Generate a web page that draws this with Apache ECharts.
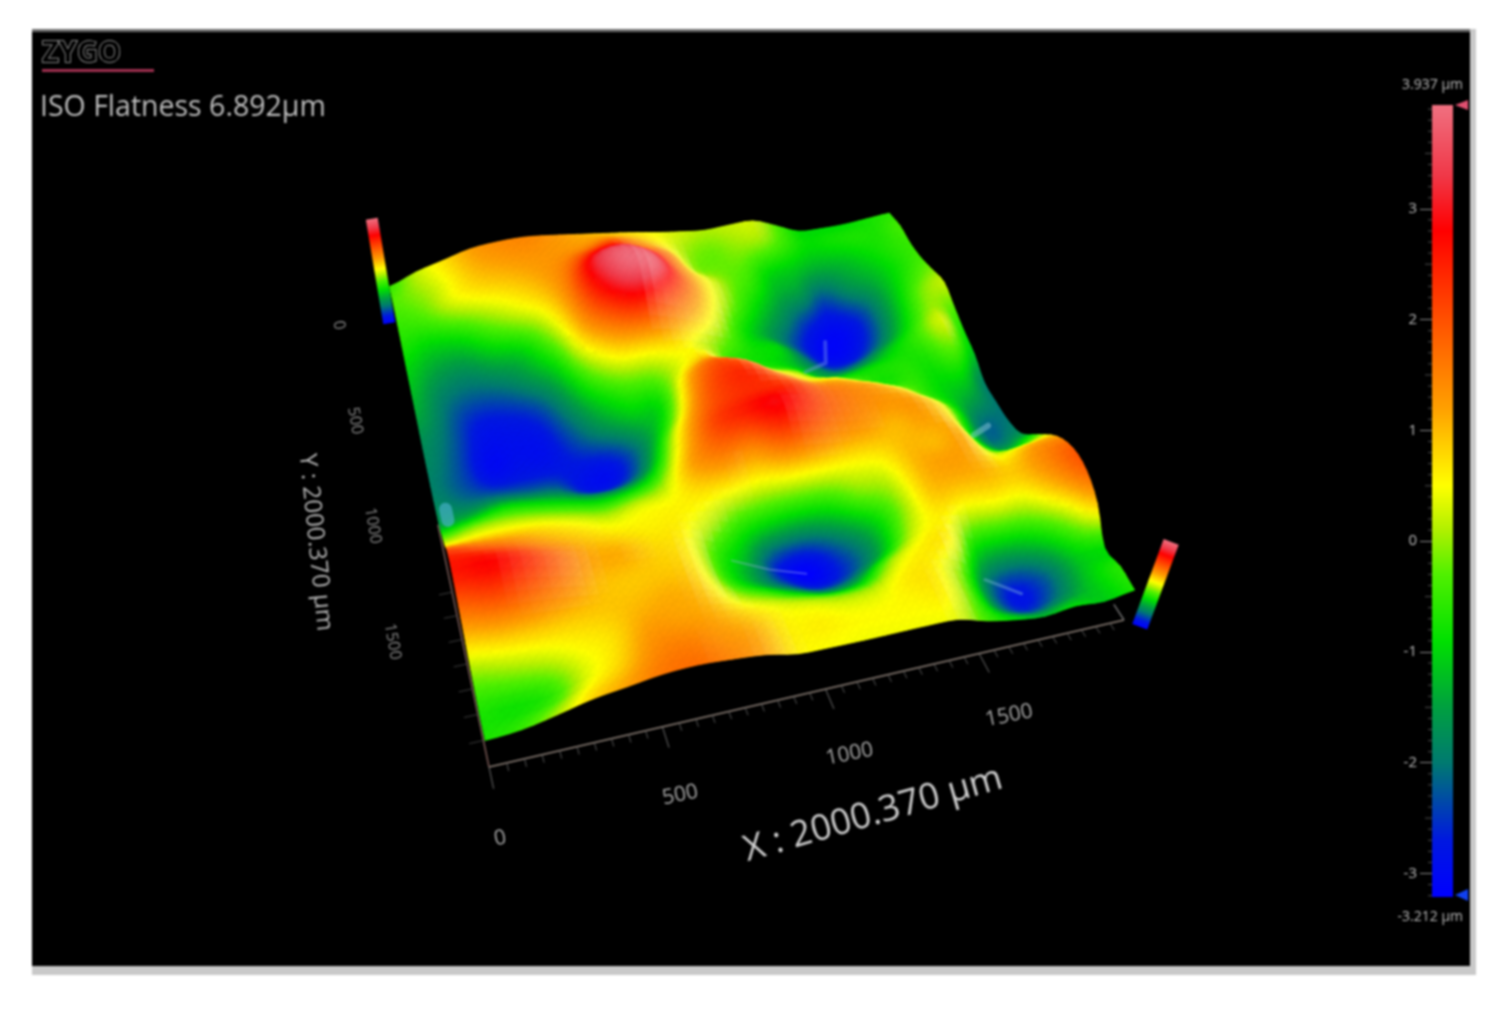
<!DOCTYPE html>
<html>
<head>
<meta charset="utf-8">
<title>ISO Flatness</title>
<script src="https://cdn.jsdelivr.net/npm/echarts@6/dist/echarts.min.js"></script>
<style>
  html, body { margin: 0; background: #fff; }
  #chart { width: 1504px; height: 1009px; filter: blur(1px); }
</style>
</head>
<body>
<div id="chart"></div>
<script>
// heights in um. one list per X position, Y runs 0 -> 2000 (back to front)
const yPositions = [0, 100, 200, 300, 400, 500, 600, 700, 800, 900, 1000, 1100, 1200, 1300, 1400, 1500, 1600, 1700, 1800, 1900, 2000]
const xPositions = [0, 100, 200, 300, 400, 500, 600, 700, 800, 900, 1000, 1100, 1200, 1300, 1400, 1500, 1600, 1700, 1800, 1900, 2000]
const heightX0000 = [-0.5, -0.3, -0.5, -0.7, -1, -1.2, -1.4, -1.7, -1.8, -1.9, -1.8, -1.5, -0.5, 0.6, 2.2, 2.6, 1.8, 0.8, -0.2, -0.7, -0.7]
const heightX0100 = [0.2, 0, -0.3, -1, -1.5, -1.9, -2.1, -2.2, -2.3, -2.3, -2, -1.3, -0.2, 0.7, 1.9, 2.8, 2.1, 1, 0, -0.8, -0.5]
const heightX0200 = [0.7, 0.5, 0.3, -0.9, -1.7, -2.2, -2.7, -2.9, -3, -2.7, -2, -1, -0.1, 0.7, 1.6, 2.5, 1.9, 1, 0.2, -0.6, 0.1]
const heightX0300 = [1.2, 1, 0.6, -0.3, -1.3, -2.1, -2.7, -2.9, -2.9, -2.7, -2.1, -1.1, -0.2, 0.6, 1.2, 1.9, 1.5, 0.9, 0.5, 0.3, 0.8]
const heightX0400 = [1.4, 1.2, 0.8, 0.2, -1, -1.6, -2.4, -2.8, -2.9, -2.7, -2.2, -1.3, -0.4, 0.4, 0.9, 1.2, 1, 0.9, 0.7, 0.8, 1.2]
const heightX0500 = [1.45, 1.3, 1.1, 0.7, 0, -0.8, -1.5, -2, -2.4, -2.8, -2.8, -1.6, -0.6, 0.2, 0.7, 1.1, 0.9, 1, 1.2, 1.4, 1.6]
const heightX0600 = [1.3, 1.3, 1.5, 1.6, 1.4, 0.9, -0.1, -1, -1.7, -2.8, -2.7, -1.5, -0.4, 0.4, 0.6, 0.8, 0.9, 1.1, 1.2, 1.5, 1.7]
const heightX0700 = [1.1, 1.4, 2.3, 3.2, 2.9, 1.9, 0.7, -0.4, -1.1, -1.9, -1.7, -0.8, 0, 0.5, 0.6, 0.6, 0.7, 0.9, 1.1, 1.3, 1.5]
const heightX0800 = [0.9, 1.7, 2.6, 3.7, 3.8, 2.5, 0.8, -0.3, -0.9, -0.5, 0.4, 0.9, 1.2, 0.7, 0.2, -0.5, -0.6, 0, 0.7, 1.1, 1.2]
const heightX0900 = [0.7, 1.3, 2, 3.1, 3.4, 2, 0.8, 0.4, 1.1, 1.5, 1.8, 2.1, 1.6, 0.6, -0.5, -1.3, -1.5, -0.5, 0.4, 0.6, 0.6]
const heightX1000 = [0.45, 0.7, 1.4, 1.7, 1.9, 1.2, 0.3, 0.8, 1.9, 2.3, 2.3, 2.5, 1.4, 0.4, -0.9, -2.6, -2.3, -1.1, 0.2, 0.6, 0.5]
const heightX1100 = [0.25, 0, 0, 0.6, 0.6, 0.2, -0.3, -0.5, 1.5, 2.3, 2.4, 2.9, 2, 0.5, -1.1, -3.1, -2.9, -1.6, 0, 0.5, 0.45]
const heightX1200 = [0.1, -0.2, -0.2, -0.1, -0.3, -0.8, -0.8, -0.7, 0.4, 1.5, 2.3, 2.5, 1.8, 0.5, -0.9, -2.3, -2.5, -1.3, 0.1, 0.5, 0.45]
const heightX1300 = [0.2, 0, -0.3, -0.6, -1.1, -1.5, -1, -1, -0.1, 0.7, 1.7, 1.9, 1.4, 0.5, -0.2, -1.4, -1.5, 0, 0.6, 0.55, 0.45]
const heightX1400 = [0.25, 0, -0.9, -1.3, -1.8, -2.3, -2, -1.6, -1, 0.5, 1.4, 1.5, 1.2, 0.6, 0.1, -0.2, 0.1, 0.6, 0.6, 0.55, 0.35]
const heightX1500 = [-0.3, -0.5, -1.1, -1.6, -2.6, -3, -2.8, -2.1, -1, -0.1, 1.1, 1.3, 1, 1, 1, 0.9, 0.6, 0.5, -0.2, -0.4, -0.4]
const heightX1600 = [-0.9, -0.9, -1.4, -2.4, -3, -3.1, -2.8, -1.8, -0.8, -0.7, 0.5, 1.2, 1.2, 1, 1.2, 1, 0.2, -1, -1.9, -1.9, -0.9]
const heightX1700 = [-0.95, -0.8, -1.3, -1.7, -2.6, -2.6, -2.1, -1.1, -0.7, -0.6, -0.4, 0.5, 0.8, 1.1, 1.1, 1, 0.3, -1.3, -2.7, -2.6, -1.2]
const heightX1800 = [-0.9, -0.7, -1, -1.3, -1.5, -1.4, -1, -0.5, -0.7, -0.9, -1, -0.8, -0.9, -0.4, 0.5, 0.9, 0.3, -1, -2.2, -2, -0.9]
const heightX1900 = [-0.75, -0.7, -0.7, -0.8, -0.6, -0.2, 0, 0.3, -0.2, -0.9, -1.5, -2.1, -2, -1, 1, 1.4, 1, -0.2, -1.1, -1.1, -1.1]
const heightX2000 = [-0.6, -0.4, -0.5, -0.4, -0.1, 0.2, -0.3, -0.8, -1.2, -1.9, -2, -2, -1.6, -0.2, 1.2, 1.9, 1.8, 0.9, -0.9, -0.6, -0.7]
const heights = [heightX0000, heightX0100, heightX0200, heightX0300, heightX0400, heightX0500, heightX0600,
  heightX0700, heightX0800, heightX0900, heightX1000, heightX1100, heightX1200, heightX1300, heightX1400,
  heightX1500, heightX1600, heightX1700, heightX1800, heightX1900, heightX2000]

const zMin = -3.212
const zMax = 3.937
const scaleTicks = [-3, -2, -1, 0, 1, 2, 3]
const xAxisLabels = [0, 500, 1000, 1500]
const yAxisLabels = [0, 500, 1000, 1500]

// pale glints on the valley floors: [x um, y um, height um]
const glintA = [[1530, 500, -2.6], [1490, 610, -2.6], [1380, 680, -2]]
const glintB = [[840, 1520, -1], [960, 1540, -2], [1080, 1560, -2.6]]
const glintC = [[1600, 1780, -1.8], [1700, 1850, -2.2]]
const glintD = [[1840, 1150, -1.8], [1910, 1120, -1.8]]
const glintE = [[30, 1020, -1.8], [30, 1070, -1.8]]

// colour scale of the instrument, value -> colour
const rampValues = [-3.212, -2.7, -2, -1.5, -0.9, -0.3, 0.1, 0.5, 1.2, 2, 2.8, 3.3, 3.937]
const rampColors = ['#0000ff', '#0018e0', '#007a70', '#00a040', '#00e000', '#50f000', '#b0f000', '#ffff00',
  '#ffa000', '#ff5000', '#ff0000', '#f03848', '#f07080']

const textColor = '#bdbdbd'
const chartFont = '"Open Sans", "Noto Sans", sans-serif'

function rampColor(z) {
  z = Math.max(zMin, Math.min(zMax, z))
  let i = 0
  while (i < rampValues.length - 2 && z > rampValues[i + 1]) i++
  const t = (z - rampValues[i]) / (rampValues[i + 1] - rampValues[i])
  return echarts.color.lerp(t, [rampColors[i], rampColors[i + 1]])
}

function rampStops(lo, hi, shade) {
  const stops = []
  for (let o = 0; o <= 3; o++) {
    stops.push({ offset: o / 3, color: echarts.color.lift(rampColor(lo + (hi - lo) * o / 3), shade) })
  }
  return stops
}

function fullRamp() {
  return rampValues.map(function (v, i) {
    return { offset: (v - zMin) / (zMax - zMin), color: rampColors[i] }
  })
}

// camera: base plane corners, vanishing point of the vertical and the rise per um
const backLeft = [396, 326]
const backRight = [884, 253]
const frontLeft = [489, 767]
const frontRight = [1124, 620]
const vanish = [657, 1930]
const rise = 0.0091

function project(x, y, z) {
  const u = x / 2000
  const v = y / 2000
  const s = u / (u + 0.887 * (1 - u))
  const t = v / (v + 1.22 * (1 - v))
  const lx = backLeft[0] + t * (frontLeft[0] - backLeft[0])
  const ly = backLeft[1] + t * (frontLeft[1] - backLeft[1])
  const rx = backRight[0] + t * (frontRight[0] - backRight[0])
  const ry = backRight[1] + t * (frontRight[1] - backRight[1])
  const px = lx + s * (rx - lx)
  const py = ly + s * (ry - ly)
  const f = rise * (z - zMin)
  return [px + (px - vanish[0]) * f, py + (py - vanish[1]) * f]
}

// spline through the read heights, only so the mesh is drawn smooth (like smooth: true on a line)
const meshSteps = 3
function spline(a, b, c, d, t) {
  return b + 0.5 * t * (c - a + t * (2 * a - 5 * b + 4 * c - d + t * (3 * (b - c) + d - a)))
}
function heightAt(i, j) {
  const ci = Math.max(0, Math.min(heights.length - 1, i))
  const cj = Math.max(0, Math.min(heights[0].length - 1, j))
  return heights[ci][cj]
}
function smoothHeight(fi, fj) {
  const i = Math.min(Math.floor(fi), heights.length - 2)
  const j = Math.min(Math.floor(fj), heights[0].length - 2)
  const rows = []
  for (let k = -1; k <= 2; k++) {
    rows.push(spline(heightAt(i - 1, j + k), heightAt(i, j + k), heightAt(i + 1, j + k), heightAt(i + 2, j + k), fi - i))
  }
  return spline(rows[0], rows[1], rows[2], rows[3], fj - j)
}
const meshSize = (xPositions.length - 1) * meshSteps + 1
const meshZ = []
for (let i = 0; i < meshSize; i++) {
  meshZ.push([])
  for (let j = 0; j < meshSize; j++) {
    meshZ[i].push(smoothHeight(i / meshSteps, j / meshSteps))
  }
}
const meshStepUm = 100 / meshSteps

// one triangle per item, back rows first so the front ones cover them
const triangles = []
for (let j = 0; j < meshSize - 1; j++) {
  for (let i = 0; i < meshSize - 1; i++) {
    triangles.push([i, j, i + 1, j, i, j + 1, i, j])
    triangles.push([i + 1, j, i + 1, j + 1, i, j + 1, i, j])
  }
}

// warm slopes facing +X fall off towards the shadow side, same value for the whole cell
function cellShade(i, j) {
  const a = Math.max(i - 1, 0)
  const b = Math.min(i + 2, meshSize - 1)
  const c = Math.min(j + 1, meshSize - 1)
  const drop = ((meshZ[a][j] + meshZ[a][c]) - (meshZ[b][j] + meshZ[b][c])) / 2 / ((b - a) * meshStepUm) * 100
  const warm = Math.max(0, Math.min(1, (meshZ[i][j] + 0.1) / 0.6))
  return warm * Math.max(0, Math.min(0.24, drop * 0.35 - 0.04))
}

function renderTriangle(params, api) {
  const pts = []
  const zs = []
  for (let k = 0; k < 3; k++) {
    const i = api.value(k * 2)
    const j = api.value(k * 2 + 1)
    const z = meshZ[i][j]
    zs.push(z)
    pts.push(api.coord(project(i * meshStepUm, j * meshStepUm, z)))
  }
  const shade = cellShade(api.value(6), api.value(7))
  const dx1 = pts[1][0] - pts[0][0]
  const dy1 = pts[1][1] - pts[0][1]
  const dx2 = pts[2][0] - pts[0][0]
  const dy2 = pts[2][1] - pts[0][1]
  const dz1 = zs[1] - zs[0]
  const dz2 = zs[2] - zs[0]
  const det = dx1 * dy2 - dx2 * dy1
  const lo = Math.min(zs[0], zs[1], zs[2])
  const hi = Math.max(zs[0], zs[1], zs[2])
  let fill = echarts.color.lift(rampColor((zs[0] + zs[1] + zs[2]) / 3), shade)
  if (Math.abs(det) > 0.5 && hi - lo > 0.001) {
    const gx = (dz1 * dy2 - dz2 * dy1) / det
    const gy = (dz2 * dx1 - dz1 * dx2) / det
    const g2 = gx * gx + gy * gy
    fill = new echarts.graphic.LinearGradient(
      pts[0][0] - gx * (zs[0] - lo) / g2,
      pts[0][1] - gy * (zs[0] - lo) / g2,
      pts[0][0] + gx * (hi - zs[0]) / g2,
      pts[0][1] + gy * (hi - zs[0]) / g2,
      rampStops(lo, hi, shade),
      true
    )
  }
  return {
    type: 'polygon',
    shape: { points: pts },
    style: { fill: fill, stroke: fill, lineWidth: 0.8 }
  }
}

const glints = [
  { points: glintA, color: 'rgba(120,155,235,0.4)', width: 4 },
  { points: glintB, color: 'rgba(170,190,240,0.35)', width: 2 },
  { points: glintC, color: 'rgba(130,190,220,0.4)', width: 3 },
  { points: glintD, color: 'rgba(150,210,225,0.45)', width: 6 },
  { points: glintE, color: 'rgba(80,180,215,0.6)', width: 13 }
]

function renderGlint(params, api) {
  const glint = glints[params.dataIndex]
  return {
    type: 'polyline',
    shape: {
      points: glint.points.map(function (p) { return api.coord(project(p[0], p[1], p[2])) })
    },
    style: { fill: 'none', stroke: glint.color, lineWidth: glint.width, lineCap: 'round', lineJoin: 'round' }
  }
}

// axes on the base plane
const baseSegments = [
  { from: [0, 2000], to: [2000, 2000], color: '#8d8078', width: 1.5 },
  { from: [0, 1000], to: [0, 2000], color: '#7a5a56', width: 1.5 },
  { from: [2000, 1930], to: [2000, 2000], color: '#6d6d6d', width: 1.5 }
]
for (let x = 0; x < 2000; x += 50) {
  const major = x % 500 === 0
  baseSegments.push({ from: [x, 2000], to: [x, major ? 2080 : 2030], color: major ? '#6d6d6d' : '#555', width: 1 })
}
for (let y = 1300; y < 2000; y += 100) {
  baseSegments.push({ from: [-40, y], to: [0, y], color: '#3c3c3c', width: 1 })
}

function renderSegment(params, api) {
  const seg = baseSegments[params.dataIndex]
  const a = api.coord(project(seg.from[0], seg.from[1], zMin))
  const b = api.coord(project(seg.to[0], seg.to[1], zMin))
  return {
    type: 'line',
    shape: { x1: a[0], y1: a[1], x2: b[0], y2: b[1] },
    style: { stroke: seg.color, lineWidth: seg.width }
  }
}

const axisTexts = []
xAxisLabels.forEach(function (x) {
  axisTexts.push({ text: String(x), x: x - 10, y: 2255, rotation: 0.2, size: 21, color: '#a8a8a8' })
})
yAxisLabels.forEach(function (y) {
  axisTexts.push({ text: String(y), x: -200, y: y - 50, rotation: -1.4, size: 16, color: '#8c8c8c' })
})
axisTexts.push({ text: 'X : 2000.370 µm', x: 985, y: 2480, rotation: 0.28, size: 36, color: '#cfcfcf' })
axisTexts.push({ text: 'Y : 2000.370 µm', x: -380, y: 975, rotation: -1.47, size: 24, color: '#b4b4b4' })

function renderAxisText(params, api) {
  const item = axisTexts[params.dataIndex]
  const p = api.coord(project(item.x, item.y, zMin))
  return {
    type: 'text',
    x: p[0],
    y: p[1],
    rotation: item.rotation,
    style: {
      text: item.text,
      fill: item.color,
      font: item.size + 'px ' + chartFont,
      align: 'center',
      verticalAlign: 'middle'
    }
  }
}

// the small colour posts standing on two corners
const cornerPosts = [
  { x: -22, y: -20, width: 12 },
  { x: 2035, y: 2040, width: 16 }
]

function renderPost(params, api) {
  const post = cornerPosts[params.dataIndex]
  const a = api.coord(project(post.x, post.y, zMin))
  const b = api.coord(project(post.x, post.y, zMax))
  return {
    type: 'line',
    shape: { x1: a[0], y1: a[1], x2: b[0], y2: b[1] },
    style: {
      stroke: new echarts.graphic.LinearGradient(a[0], a[1], b[0], b[1], fullRamp(), true),
      lineWidth: post.width,
      lineCap: 'butt'
    }
  }
}

function renderScaleBar(params, api) {
  const top = api.coord([0, zMax])
  const bottom = api.coord([1, zMin])
  return {
    type: 'rect',
    shape: { x: top[0], y: top[1], width: bottom[0] - top[0], height: bottom[1] - top[1] },
    style: { fill: new echarts.graphic.LinearGradient(0, bottom[1], 0, top[1], fullRamp(), true) }
  }
}

const minorTicks = []
for (let v = -32; v <= 39; v++) {
  if (v % 10 !== 0) minorTicks.push(v / 10)
}

function renderMinorTick(params, api) {
  const v = minorTicks[params.dataIndex]
  const p = api.coord([0, v])
  const len = Math.abs(Math.round(v * 10)) % 5 === 0 ? 7 : 4
  return {
    type: 'line',
    shape: { x1: p[0] - len, y1: p[1], x2: p[0], y2: p[1] },
    style: { stroke: '#4e4e4e', lineWidth: 1 }
  }
}

function indexData(list) {
  return list.map(function (s, i) { return [i] })
}

const chart = echarts.init(document.getElementById('chart'))
chart.setOption({
  animation: false,
  backgroundColor: '#fff',
  textStyle: { fontFamily: chartFont },
  graphic: [
    { type: 'rect', z: -10, shape: { x: 32, y: 29, width: 1444, height: 946 }, style: { fill: '#c9c9c9' } },
    { type: 'rect', z: -9, shape: { x: 32, y: 29, width: 1438, height: 3 }, style: { fill: '#6e6e6e' } },
    {
      type: 'text', z: 20, x: 42, y: 39,
      style: { text: 'ZYGO', fill: '#000', stroke: '#b0b0b0', lineWidth: 1.5, font: 'bold 29px ' + chartFont }
    },
    { type: 'rect', z: 20, shape: { x: 42, y: 69, width: 112, height: 3 }, style: { fill: '#a03050' } },
    {
      type: 'text', z: 20, x: 40, y: 93,
      style: { text: 'ISO Flatness 6.892µm', fill: textColor, font: '28.5px ' + chartFont }
    },
    {
      type: 'text', z: 20, x: 1463, y: 85,
      style: { text: '3.937 µm', fill: textColor, font: '14px ' + chartFont, align: 'right', verticalAlign: 'middle' }
    },
    {
      type: 'text', z: 20, x: 1463, y: 917,
      style: { text: '-3.212 µm', fill: textColor, font: '14px ' + chartFont, align: 'right', verticalAlign: 'middle' }
    },
    { type: 'polygon', z: 20, shape: { points: [[1455, 105], [1468, 100], [1468, 110]] }, style: { fill: '#e05070' } },
    { type: 'polygon', z: 20, shape: { points: [[1455, 895], [1468, 889], [1468, 901]] }, style: { fill: '#1040f0' } }
  ],
  grid: [
    { left: 32, top: 32, width: 1438, height: 934, show: true, backgroundColor: '#000', borderWidth: 0 },
    { left: 1432, top: 105, width: 21, height: 792 }
  ],
  xAxis: [
    { type: 'value', gridIndex: 0, min: 32, max: 1470, show: false },
    { type: 'value', gridIndex: 1, min: 0, max: 1, show: false }
  ],
  yAxis: [
    { type: 'value', gridIndex: 0, min: 32, max: 966, inverse: true, show: false },
    {
      type: 'value',
      gridIndex: 1,
      min: zMin,
      max: zMax,
      axisLine: { show: false },
      splitLine: { show: false },
      axisTick: { show: true, length: 12, customValues: scaleTicks, lineStyle: { color: '#8a8a8a' } },
      axisLabel: { color: textColor, fontSize: 15, margin: 15, customValues: scaleTicks }
    }
  ],
  series: [
    { type: 'custom', name: 'base axes', xAxisIndex: 0, yAxisIndex: 0, clip: false, silent: true, data: indexData(baseSegments), renderItem: renderSegment },
    { type: 'custom', name: 'axis text', xAxisIndex: 0, yAxisIndex: 0, clip: false, silent: true, data: indexData(axisTexts), renderItem: renderAxisText },
    { type: 'custom', name: 'corner posts', xAxisIndex: 0, yAxisIndex: 0, clip: false, silent: true, data: indexData(cornerPosts), renderItem: renderPost },
    { type: 'custom', name: 'surface', xAxisIndex: 0, yAxisIndex: 0, clip: false, silent: true, data: triangles, renderItem: renderTriangle },
    { type: 'custom', name: 'glints', xAxisIndex: 0, yAxisIndex: 0, clip: false, silent: true, data: indexData(glints), renderItem: renderGlint },
    { type: 'custom', name: 'scale bar', xAxisIndex: 1, yAxisIndex: 1, clip: false, silent: true, data: [[0]], renderItem: renderScaleBar },
    { type: 'custom', name: 'scale ticks', xAxisIndex: 1, yAxisIndex: 1, clip: false, silent: true, data: indexData(minorTicks), renderItem: renderMinorTick }
  ]
})
</script>
</body>
</html>
